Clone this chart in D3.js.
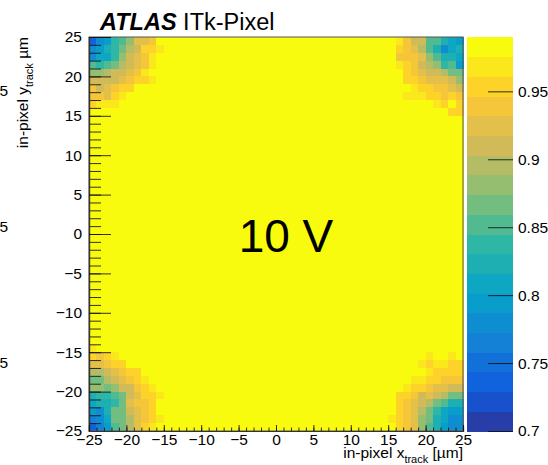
<!DOCTYPE html>
<html>
<head>
<meta charset="utf-8">
<script src="https://cdn.jsdelivr.net/npm/d3@7"></script>
<style>
body { margin: 0; background: #fff; }
text { font-family: "Liberation Sans", Arial, Helvetica, sans-serif; }
</style>
</head>
<body>
<div id="chart"></div>
<script>
// efficiency in the flat middle of the pixel (top colour)
var plateau = 0.99;

// corner patches, 11x11 bins of 1 um, as seen in the picture (row 0 = top)
var cornerTL = [
  [0.736,0.780,0.794,0.838,0.852,0.881,0.925,0.925,0.939,0.99,0.99],
  [0.780,0.794,0.823,0.838,0.867,0.896,0.910,0.954,0.954,0.968,0.99],
  [0.780,0.809,0.809,0.838,0.881,0.910,0.925,0.939,0.968,0.99,0.99],
  [0.852,0.838,0.852,0.867,0.896,0.910,0.925,0.939,0.968,0.99,0.99],
  [0.881,0.881,0.896,0.910,0.910,0.925,0.939,0.968,0.99,0.99,0.99],
  [0.910,0.910,0.910,0.910,0.925,0.939,0.954,0.954,0.968,0.99,0.99],
  [0.939,0.910,0.925,0.939,0.954,0.954,0.99,0.99,0.99,0.99,0.99],
  [0.939,0.939,0.925,0.954,0.968,0.99,0.99,0.99,0.99,0.99,0.99],
  [0.954,0.968,0.968,0.968,0.99,0.99,0.99,0.99,0.99,0.99,0.99],
  [0.99,0.99,0.99,0.99,0.99,0.99,0.99,0.99,0.99,0.99,0.99],
  [0.99,0.99,0.99,0.99,0.99,0.99,0.99,0.99,0.99,0.99,0.99]
];
var cornerTR = [
  [0.99,0.99,0.968,0.939,0.910,0.910,0.852,0.852,0.823,0.809,0.794],
  [0.99,0.99,0.954,0.939,0.925,0.896,0.852,0.823,0.780,0.809,0.823],
  [0.99,0.99,0.939,0.939,0.939,0.925,0.881,0.852,0.823,0.823,0.809],
  [0.99,0.99,0.968,0.954,0.939,0.910,0.896,0.881,0.838,0.852,0.794],
  [0.99,0.99,0.99,0.954,0.939,0.925,0.910,0.910,0.896,0.867,0.867],
  [0.99,0.99,0.99,0.954,0.954,0.939,0.925,0.925,0.925,0.910,0.881],
  [0.99,0.99,0.99,0.99,0.968,0.954,0.954,0.939,0.939,0.925,0.910],
  [0.99,0.99,0.99,0.968,0.968,0.968,0.954,0.954,0.939,0.954,0.939],
  [0.99,0.99,0.99,0.99,0.99,0.99,0.99,0.968,0.954,0.99,0.954],
  [0.99,0.99,0.99,0.99,0.99,0.99,0.99,0.99,0.99,0.954,0.954],
  [0.99,0.99,0.99,0.99,0.99,0.99,0.99,0.99,0.99,0.99,0.99]
];
var cornerBL = [
  [0.968,0.99,0.99,0.99,0.99,0.99,0.99,0.99,0.99,0.99,0.99],
  [0.954,0.939,0.954,0.968,0.99,0.99,0.99,0.99,0.99,0.99,0.99],
  [0.925,0.925,0.939,0.954,0.954,0.99,0.99,0.99,0.99,0.99,0.99],
  [0.896,0.896,0.910,0.925,0.939,0.954,0.954,0.99,0.99,0.99,0.99],
  [0.867,0.867,0.896,0.910,0.925,0.939,0.954,0.968,0.99,0.99,0.99],
  [0.881,0.881,0.867,0.881,0.910,0.910,0.939,0.954,0.968,0.99,0.99],
  [0.823,0.838,0.838,0.852,0.867,0.910,0.925,0.954,0.954,0.968,0.99],
  [0.809,0.823,0.823,0.838,0.867,0.925,0.939,0.939,0.954,0.99,0.99],
  [0.794,0.780,0.823,0.867,0.867,0.910,0.925,0.939,0.954,0.99,0.99],
  [0.765,0.780,0.809,0.867,0.867,0.896,0.925,0.939,0.954,0.968,0.99],
  [0.736,0.765,0.794,0.852,0.867,0.896,0.925,0.954,0.968,0.99,0.99]
];
var cornerBR = [
  [0.99,0.99,0.99,0.99,0.99,0.99,0.99,0.99,0.99,0.99,0.99],
  [0.99,0.99,0.99,0.99,0.99,0.99,0.968,0.99,0.99,0.968,0.99],
  [0.99,0.99,0.99,0.99,0.99,0.968,0.954,0.968,0.968,0.954,0.954],
  [0.99,0.99,0.99,0.99,0.99,0.99,0.968,0.954,0.954,0.954,0.954],
  [0.99,0.99,0.99,0.99,0.968,0.968,0.954,0.954,0.939,0.939,0.939],
  [0.99,0.99,0.99,0.968,0.954,0.954,0.939,0.925,0.925,0.910,0.910],
  [0.99,0.99,0.954,0.954,0.939,0.910,0.925,0.910,0.896,0.867,0.867],
  [0.99,0.99,0.954,0.939,0.925,0.910,0.896,0.867,0.852,0.823,0.823],
  [0.99,0.99,0.954,0.939,0.925,0.896,0.867,0.838,0.809,0.794,0.794],
  [0.99,0.968,0.954,0.939,0.925,0.881,0.867,0.823,0.809,0.780,0.780],
  [0.99,0.99,0.954,0.939,0.925,0.881,0.852,0.823,0.794,0.780,0.780]
];

var xTickValues = [-25,-20,-15,-10,-5,0,5,10,15,20,25];
var yTickValues = [-25,-20,-15,-10,-5,0,5,10,15,20,25];
var colorTicks = [0.7,0.75,0.8,0.85,0.9,0.95];
var zMin = 0.7, zMax = 0.99, nContours = 20;

// ROOT kBird palette
var birdStops = [0, 0.125, 0.25, 0.375, 0.5, 0.625, 0.75, 0.875, 1];
var birdR = [0.2082, 0.0592, 0.0780, 0.0232, 0.1802, 0.5301, 0.8186, 0.9956, 0.9764];
var birdG = [0.1664, 0.3599, 0.5041, 0.6419, 0.7178, 0.7492, 0.7328, 0.7862, 0.9832];
var birdB = [0.5293, 0.8684, 0.8385, 0.7914, 0.6425, 0.4662, 0.3499, 0.1968, 0.0539];

var width = 548, height = 465;
var padL = 89, padR = 463, padT = 37, padB = 431;
var nBins = 50;
var fs = 15.5;

var svg = d3.select("#chart").append("svg")
    .attr("width", width).attr("height", height);

var x = d3.scaleLinear().domain([-25, 25]).range([padL, padR]);
var y = d3.scaleLinear().domain([-25, 25]).range([padB, padT]);
var zScale = d3.scaleLinear().domain([zMin, zMax]).range([padB, padT]);

var bird = d3.scaleLinear().domain(birdStops)
    .range(birdStops.map(function(s, k) {
      return d3.rgb(birdR[k] * 255, birdG[k] * 255, birdB[k] * 255);
    }))
    .interpolate(d3.interpolateRgb);

function levelOf(v) {
  var l = Math.floor((v - zMin) / (zMax - zMin) * nContours);
  return Math.max(0, Math.min(nContours - 1, l));
}
function levelColor(l) {
  return bird(Math.floor((l + 0.99) * 255 / nContours) / 254);
}

// build the 50x50 map
var grid = [];
for (var j = 0; j < nBins; j++) {
  for (var i = 0; i < nBins; i++) {
    grid.push({i: i, j: j, v: plateau});
  }
}
function place(patch, col0, row0) {
  patch.forEach(function(row, r) {
    row.forEach(function(v, c) { grid[(row0 + r) * nBins + col0 + c].v = v; });
  });
}
place(cornerTL, 0, 0);
place(cornerTR, nBins - 11, 0);
place(cornerBL, 0, nBins - 11);
place(cornerBR, nBins - 11, nBins - 11);

svg.append("g").attr("shape-rendering", "crispEdges")
  .selectAll("rect")
  .data(grid).enter().append("rect")
    .attr("x", function(d) { return x(-25 + d.i); })
    .attr("y", function(d) { return y(25 - d.j); })
    .attr("width", function(d) { return x(-24 + d.i) - x(-25 + d.i) + 0.5; })
    .attr("height", function(d) { return y(24 - d.j) - y(25 - d.j) + 0.5; })
    .attr("fill", function(d) { return levelColor(levelOf(d.v)); });

// frame
svg.append("rect")
  .attr("x", padL).attr("y", padT)
  .attr("width", padR - padL).attr("height", padB - padT)
  .attr("fill", "none").attr("stroke", "#555").attr("stroke-width", 1);

// axes, ticks inside like ROOT
svg.append("g").attr("transform", "translate(" + padL + ",0)")
  .call(d3.axisLeft(y).tickValues(d3.range(-25, 26, 1)).tickSize(-12).tickFormat(""));
svg.append("g").attr("transform", "translate(" + padL + ",0)")
  .call(d3.axisLeft(y).tickValues(yTickValues).tickSize(-22).tickPadding(7));
svg.append("g").attr("transform", "translate(0," + padB + ")")
  .call(d3.axisBottom(x).tickValues(d3.range(-25, 26, 1)).tickSize(-3.5).tickFormat(""));
svg.append("g").attr("transform", "translate(0," + padB + ")")
  .call(d3.axisBottom(x).tickValues(xTickValues).tickSize(-6).tickPadding(3));

svg.selectAll(".domain").attr("stroke", "#333").attr("stroke-width", 1.2);
svg.selectAll(".tick line").attr("stroke", "#111").attr("stroke-opacity", 0.85);
svg.selectAll(".tick text").attr("font-size", fs).attr("fill", "#000")
  .style("font-family", "'Liberation Sans', Arial, sans-serif");

// colour bar
var cbLeft = 467, cbRight = 513;
svg.append("g").attr("shape-rendering", "crispEdges")
  .selectAll("rect")
  .data(d3.range(nContours)).enter().append("rect")
    .attr("x", cbLeft)
    .attr("y", function(l) { return zScale(zMin + (l + 1) * (zMax - zMin) / nContours); })
    .attr("width", cbRight - cbLeft)
    .attr("height", function(l) {
      return zScale(zMin + l * (zMax - zMin) / nContours) - zScale(zMin + (l + 1) * (zMax - zMin) / nContours) + 0.5;
    })
    .attr("fill", function(l) { return levelColor(l); });

var zAxis = svg.append("g").attr("transform", "translate(" + cbRight + ",0)")
  .call(d3.axisRight(zScale).tickValues(colorTicks).tickSize(-25).tickPadding(5)
    .tickFormat(d3.format("~g")));
zAxis.select(".domain").remove();
zAxis.selectAll(".tick line").attr("stroke", "#111").attr("stroke-opacity", 0.85);
zAxis.selectAll(".tick text").attr("font-size", fs);

// leftovers of the neighbouring panel's colour scale, cut by the image edge
svg.selectAll(".cut")
  .data([0.95, 0.85, 0.75]).enter().append("text")
    .attr("class", "cut")
    .attr("x", 8).attr("y", function(d) { return zScale(d) + 5; })
    .attr("text-anchor", "end").attr("font-size", fs)
    .text(function(d) { return d3.format("~g")(d); });

// titles
var title = svg.append("text").attr("x", 100).attr("y", 30).attr("font-size", 23.5);
title.append("tspan").attr("font-weight", "bold").attr("font-style", "italic").text("ATLAS");
title.append("tspan").text(" ITk-Pixel");

svg.append("text")
  .attr("x", 286).attr("y", 252)
  .attr("text-anchor", "middle").attr("font-size", 46)
  .text("10 V");

var xTitle = svg.append("text")
  .attr("x", padR).attr("y", 458)
  .attr("text-anchor", "end").attr("font-size", fs);
xTitle.append("tspan").text("in-pixel x");
xTitle.append("tspan").attr("font-size", 11).attr("dy", 5).text("track");
xTitle.append("tspan").attr("dy", -5).text(" [\u00b5m]");

var yTitle = svg.append("text")
  .attr("transform", "translate(28," + padT + ") rotate(-90)")
  .attr("text-anchor", "end").attr("font-size", fs);
yTitle.append("tspan").text("in-pixel y");
yTitle.append("tspan").attr("font-size", 11).attr("dy", 5).text("track");
yTitle.append("tspan").attr("dy", -5).text(" \u00b5m");
</script>
</body>
</html>
